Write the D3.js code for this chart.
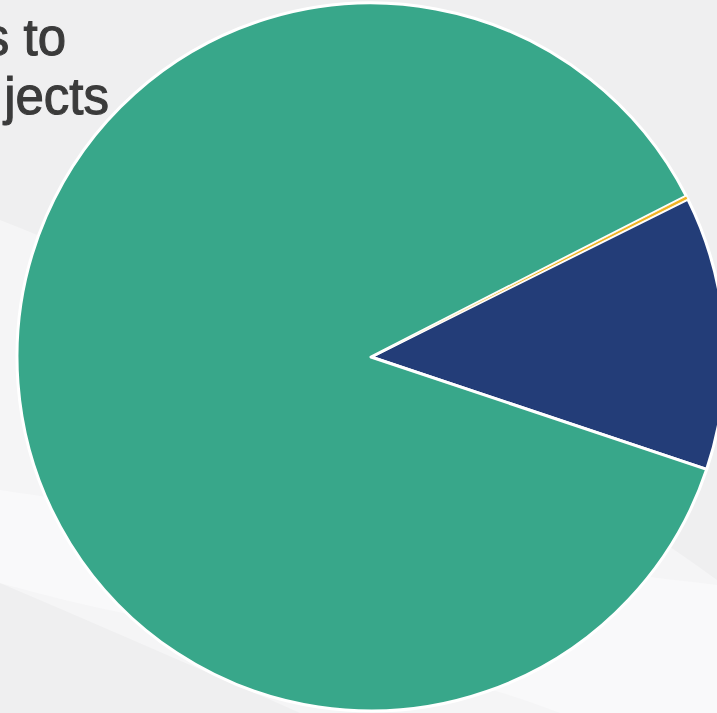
<!DOCTYPE html>
<html>
<head>
<meta charset="utf-8">
<script src="https://cdn.jsdelivr.net/npm/d3@7"></script>
<style>
  html, body { margin: 0; padding: 0; background: #efeff0; overflow: hidden; }
  svg { display: block; }
</style>
</head>
<body>
<script>
// slice shares (percent)
const categories = ["Navy", "Green", "Orange"];
const values = [12.5, 87.35, 0.15];
const colors = ["#233d78", "#38a78a", "#f0b323"];
const titleLines = ["s to", "jects"];

const W = 717, H = 713;
const cx = 371, cy = 357, r = 354;

const svg = d3.select("body").append("svg")
  .attr("width", W)
  .attr("height", H);

// soft background bands
const bg = svg.append("g");
bg.append("rect").attr("width", W).attr("height", H).attr("fill", "#efeff0");
bg.append("path")
  .attr("d", "M0,220 C200,300 500,420 717,580 L717,900 C500,800 250,690 0,583 Z")
  .attr("fill", "#f5f5f6");
bg.append("path")
  .attr("d", "M0,490 C200,520 500,560 717,585 L717,713 L560,713 C400,650 200,640 0,583 Z")
  .attr("fill", "#f9f9fa");

// title fragment
const title = svg.append("g")
  .attr("font-family", "Liberation Sans, Arial, sans-serif")
  .attr("font-size", 51)
  .attr("fill", "#3b3b3b")
  .attr("stroke", "#3b3b3b")
  .attr("stroke-width", 1.1)
  .attr("text-anchor", "end");
title.append("text").attr("x", 66).attr("y", 55).text(titleLines[0]);
title.append("text").attr("x", 109).attr("y", 114).text(titleLines[1]);

// pie
const start = 63.5 * Math.PI / 180;
const pie = d3.pie()
  .sort(null)
  .startAngle(start)
  .endAngle(start + 2 * Math.PI)
  .value(d => d);

const arc = d3.arc().innerRadius(0).outerRadius(r);

svg.append("g")
  .attr("transform", `translate(${cx},${cy})`)
  .selectAll("path")
  .data(pie(values))
  .join("path")
  .attr("d", arc)
  .attr("fill", (d, i) => colors[i])
  .attr("stroke", "#ffffff")
  .attr("stroke-width", (d, i) => categories[i] === "Orange" ? 0.8 : 3)
  .attr("stroke-linejoin", "round");
</script>
</body>
</html>
